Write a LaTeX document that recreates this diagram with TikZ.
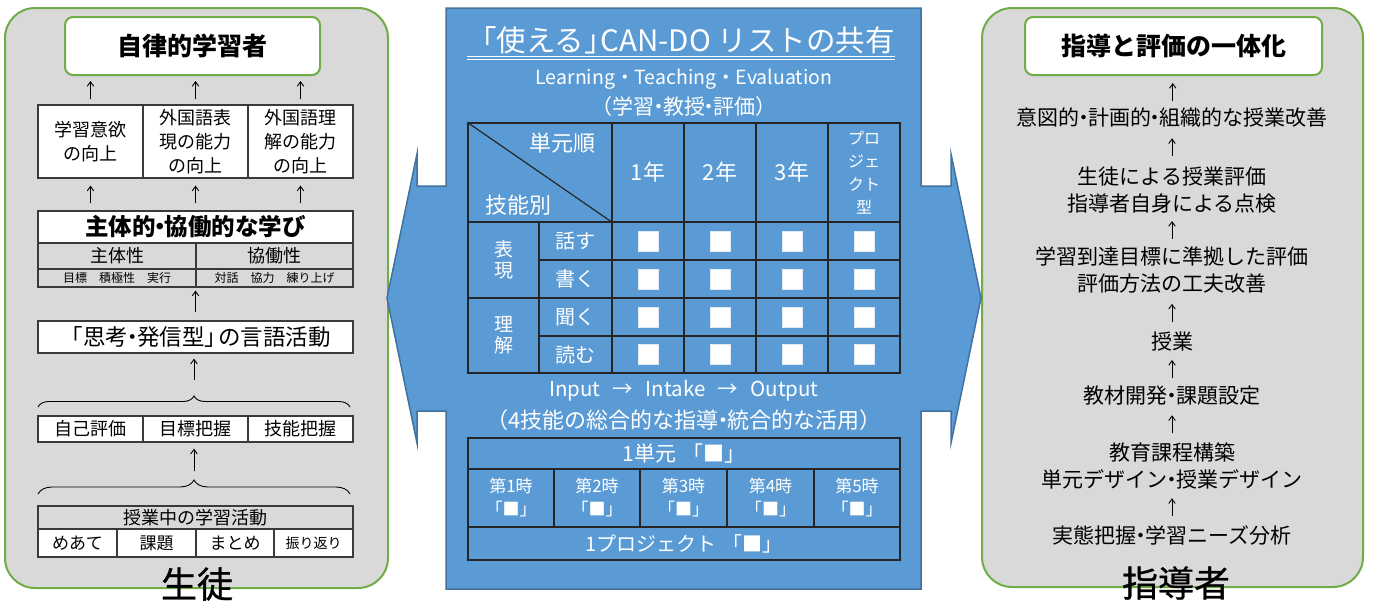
\documentclass[tikz,border=0pt]{standalone}
\usepackage{fontspec}
\setmainfont{Noto Sans CJK JP}
\newfontfamily\heavyjp{Noto Sans CJK JP}[FakeBold=0.8]
\usetikzlibrary{arrows.meta,calc,decorations.pathreplacing}
\definecolor{panelgray}{HTML}{D9D9D9}
\definecolor{pgreen}{HTML}{70AD47}
\definecolor{pblue}{HTML}{5B9BD5}
\definecolor{pbluedark}{HTML}{41719C}
\definecolor{cellline}{HTML}{3A3A3A}
\newcommand\fs[2]{\fontsize{#1}{#2}\selectfont}
\newcommand\nd{\hspace{-0.3em}・\hspace{-0.3em}}
\newcommand\cellbox[7]{\node[#1,minimum width={(#5-#3)*1pt},minimum height={(#6-#4)*1pt}] (#2) at ({(#3+#5)/2},{(#4+#6)/2}) {#7};}
\newcommand\midup[2]{\draw[uparr] ($(#1.north)!0.5!(#2.south)+(0,9)$) -- ($(#1.north)!0.5!(#2.south)+(0,-9)$);}
\begin{document}
\begin{tikzpicture}[x=1pt,y=-1pt,
  panel/.style={draw=pgreen, line width=2pt, fill=panelgray, rounded corners=30pt},
  headbox/.style={draw=pgreen, line width=2pt, fill=white, rounded corners=8pt, inner sep=0pt, font=\bfseries\fs{25}{30}},
  wcell/.style={draw=cellline, line width=1.2pt, fill=white, inner sep=0pt, align=center, font=\fs{18}{24}},
  gcell/.style={wcell, fill=panelgray},
  bcell/.style={draw=black!85, line width=1.2pt, inner sep=0pt, align=center, text=white, font=\fs{20}{24}},
  sq/.style={fill=white, draw=white!80!pblue, line width=0.6pt, minimum size=20pt, inner sep=0pt},
  wtext/.style={text=white, inner sep=0pt, align=center},
  rtext/.style={inner sep=0pt, align=center, font=\fs{21}{27}},
  biglabel/.style={inner sep=0pt, font=\heavyjp\fs{36}{38}},
  uparr/.style={draw=black, line width=0.9pt, -{Straight Barb[length=4.5pt,width=6.5pt]}},
  lbrace/.style={draw=black, line width=0.9pt, decorate, decoration={brace, amplitude=#1}}
]
\useasboundingbox (0,0) rectangle (1375,603);

% ---------------- left panel ----------------
\node[panel, minimum width=383pt, minimum height=580pt] (lp) at (196.5,298) {};
\cellbox{headbox}{lt}{65}{17}{320}{75}{自律的学習者}
\cellbox{wcell}{m1}{38}{105}{143}{178}{学習意欲\\の向上}
\cellbox{wcell}{m2}{143}{105}{248}{178}{外国語表\\現の能力\\の向上}
\cellbox{wcell}{m3}{248}{105}{353}{178}{外国語理\\解の能力\\の向上}
\cellbox{wcell,font=\bfseries\fs{23.5}{26}}{sh}{38}{211}{353}{243}{主体的\nd 協働的な学び}
\cellbox{gcell}{s1}{38}{243}{196}{269}{主体性}
\cellbox{gcell}{s2}{196}{243}{353}{269}{協働性}
\cellbox{gcell,font=\fs{12}{14}}{t1}{38}{269}{196}{287}{目標\hspace{1em}積極性\hspace{1em}実行}
\cellbox{gcell,font=\fs{12}{14}}{t2}{196}{269}{353}{287}{対話\hspace{1em}協力\hspace{1em}練り上げ}
\cellbox{wcell,font=\fs{22.5}{24}}{kt}{38}{321}{353}{353}{「思考\nd 発信型」\hspace{-0.4em}の言語活動}
\coordinate (br1a) at (38,407);
\coordinate (br1b) at (350,407);
\draw[lbrace=11pt] (br1a) -- (br1b);
\coordinate (br1) at (194,396);
\cellbox{wcell}{r1}{38}{416}{143}{442}{自己評価}
\cellbox{wcell}{r2}{143}{416}{248}{442}{目標把握}
\cellbox{wcell}{r3}{248}{416}{353}{442}{技能把握}
\coordinate (br2a) at (38,494);
\coordinate (br2b) at (350,494);
\draw[lbrace=14pt] (br2a) -- (br2b);
\coordinate (br2) at (194,480);
\cellbox{gcell}{g1}{38}{506}{353}{529}{授業中の学習活動}
\cellbox{wcell,font=\fs{17}{20}}{b1}{38}{529}{117}{557}{めあて}
\cellbox{wcell,font=\fs{17}{20}}{b2}{117}{529}{196}{557}{課題}
\cellbox{wcell,font=\fs{17}{20}}{b3}{196}{529}{274}{557}{まとめ}
\cellbox{wcell,font=\fs{14}{16}}{b4}{274}{529}{353}{557}{振り返り}
\node[biglabel] (lbl1) at (197,584) {生徒};

\foreach \m in {m1,m2,m3} \draw[uparr, shorten <=5pt, shorten >=5pt] (\m.north) -- (\m.north |- lt.south);
\foreach \m in {m1,m2,m3} \draw[uparr, shorten <=7pt, shorten >=7pt] (\m |- sh.north) -- (\m.south);
\draw[uparr, shorten <=8pt, shorten >=3pt] (kt.north) -- (kt.north |- t1.south);
\draw[uparr, shorten <=16pt, shorten >=5pt] (br1) -- (br1 |- kt.south);
\draw[uparr, shorten <=9pt, shorten >=6pt] (br2) -- (br2 |- r2.south);

% ---------------- right panel ----------------
\node[panel, minimum width=381pt, minimum height=579pt] (rp) at (1172.5,297.5) {};
\cellbox{headbox,font=\bfseries\fs{25}{28}}{rt}{1025}{17}{1322}{75}{指導と評価の一体化}
\node[rtext] (R1) at (1172,118) {意図的\nd 計画的\nd 組織的な授業改善};
\node[rtext] (R2) at (1172,190) {生徒による授業評価\\指導者自身による点検};
\node[rtext] (R3) at (1172,270) {学習到達目標に準拠した評価\\評価方法の工夫改善};
\node[rtext] (R4) at (1172,342) {授業};
\node[rtext] (R5) at (1172,396) {教材開発\nd 課題設定};
\node[rtext] (R6) at (1172,466) {教育課程構築\\単元デザイン\nd 授業デザイン};
\node[rtext] (R7) at (1172,535) {実態把握\nd 学習ニーズ分析};
\node[biglabel] (lbl2) at (1176,583) {指導者};
\midup{R1}{rt}
\midup{R2}{R1}
\midup{R3}{R2}
\midup{R4}{R3}
\midup{R5}{R4}
\midup{R6}{R5}
\midup{R7}{R6}

% ---------------- centre ----------------
\draw[fill=pblue, draw=pbluedark, line width=1.5pt]
  (446,8) -- (921,8) -- (921,186) -- (951,186) -- (951,154) -- (981,298) -- (951,443) -- (951,411)
  -- (921,411) -- (921,589) -- (446,589) -- (446,411) -- (417,411) -- (417,443) -- (387,298)
  -- (417,154) -- (417,186) -- (446,186) -- cycle;
\node[wtext, font=\fs{29.5}{32}] (title) at (681,40) {「使える」\hspace{-0.45em}CAN-DO リストの共有};
\draw[white, line width=0.9pt] (title.west |- 0,56.5) -- (title.east |- 0,56.5);
\draw[white, line width=0.9pt] (title.west |- 0,59.5) -- (title.east |- 0,59.5);
\node[wtext, font=\fs{19.5}{22}] (lte) at (684,79) {Learning・Teaching・Evaluation};
\node[wtext, font=\fs{21}{22}] (gkh) at (684,107) {（学習\nd 教授\nd 評価）};

\cellbox{bcell}{hd}{468}{123}{612}{222}{}
\draw[black!85, line width=1.2pt] (hd.north west) -- (hd.south east);
\node[wtext, font=\fs{22}{24}] (tg) at (562,143) {単元順};
\node[wtext, font=\fs{22}{24}] (gb) at (518,205) {技能別};
\cellbox{bcell,font=\fs{22}{24}}{y1}{612}{123}{684}{222}{1年}
\cellbox{bcell,font=\fs{22}{24}}{y2}{684}{123}{756}{222}{2年}
\cellbox{bcell,font=\fs{22}{24}}{y3}{756}{123}{828}{222}{3年}
\cellbox{bcell,font=\fs{16}{23}}{pj}{828}{123}{900}{222}{プロ\\ジェ\\クト\\型}
\cellbox{bcell,font=\fs{19}{21}}{gh}{468}{222}{539}{298}{表\\現}
\cellbox{bcell,font=\fs{19}{21}}{gr}{468}{298}{539}{373}{理\\解}
\cellbox{bcell}{sk1}{539}{222}{612}{260}{話す}
\cellbox{bcell}{sk2}{539}{260}{612}{298}{書く}
\cellbox{bcell}{sk3}{539}{298}{612}{336}{聞く}
\cellbox{bcell}{sk4}{539}{336}{612}{373}{読む}
\foreach \i/\xa/\xb in {1/612/684,2/684/756,3/756/828,4/828/900}
  \foreach \j/\ya/\yb in {1/222/260,2/260/298,3/298/336,4/336/373}
  {\cellbox{bcell}{c\i\j}{\xa}{\ya}{\xb}{\yb}{}
   \node[sq] (q\i\j) at (c\i\j) {};}

\node[wtext, font=\fs{20.5}{22}] (io) at (684,391) {Input\hspace{0.6em}→\hspace{0.6em}Intake\hspace{0.6em}→\hspace{0.6em}Output};
\node[wtext, font=\fs{22}{24}] (sg) at (684,420) {（4技能の総合的な指導\nd 統合的な活用）};
\cellbox{bcell,font=\fs{21}{24}}{u1}{468}{438}{900}{469}{1単元\hspace{0.3em}「■」}
\foreach \i/\xa/\xb in {1/468/554,2/554/640,3/640/727,4/727/814,5/814/900}
  {\cellbox{bcell,font=\fs{17}{23}}{k\i}{\xa}{469}{\xb}{527}{第\i 時\\「■」}}
\cellbox{bcell,font=\fs{20}{22}}{p1}{468}{527}{900}{560}{1プロジェクト\hspace{0.3em}「■」}
\end{tikzpicture}
\end{document}
